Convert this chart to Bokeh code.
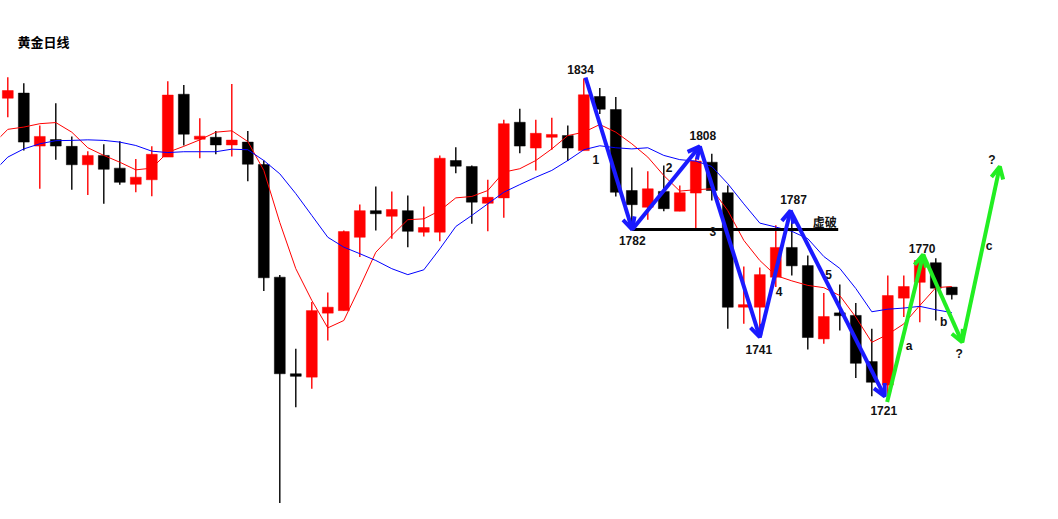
import numpy as np
from bokeh.plotting import figure
from bokeh.models import ColumnDataSource, Range1d, Arrow, OpenHead, Label
from bokeh.core.properties import value
from bokeh.embed import file_html
from bokeh.resources import INLINE

title_text = "黄金日线"

opens = [1827.0, 1828.8, 1810.1, 1812.4, 1810.0, 1803.5, 1806.8, 1802.3, 1796.6, 1798.2,
         1806.2, 1828.4, 1812.5, 1813.2, 1810.5, 1811.5, 1803.6, 1763.8, 1729.7, 1728.5,
         1751.1, 1752.0, 1777.9, 1787.3, 1785.3, 1787.3, 1779.7, 1779.7, 1805.0, 1802.9,
         1789.9, 1791.8, 1818.5, 1809.4, 1813.2, 1813.8, 1808.5, 1827.6, 1823.0, 1794.4,
         1788.5, 1794.1, 1787.1, 1793.5, 1804.4, 1793.6, 1753.2, 1753.2, 1763.8, 1774.3,
         1767.9, 1742.0, 1751.2, 1750.3, 1734.0, 1725.7, 1756.4, 1762.0, 1768.9, 1760.3]
highs = [1834.4, 1832.3, 1817.4, 1825.2, 1813.5, 1808.3, 1810.7, 1811.8, 1805.5, 1810.0,
         1833.0, 1831.7, 1819.9, 1815.4, 1832.0, 1815.4, 1805.0, 1764.6, 1738.5, 1755.0,
         1758.4, 1780.3, 1789.5, 1795.8, 1794.1, 1792.6, 1788.8, 1806.8, 1809.7, 1803.2,
         1798.2, 1819.4, 1823.3, 1819.4, 1820.1, 1817.4, 1834.0, 1830.6, 1827.4, 1802.5,
         1801.2, 1803.2, 1796.2, 1805.7, 1807.4, 1796.2, 1767.6, 1767.2, 1782.1, 1786.6,
         1771.5, 1758.2, 1761.2, 1754.7, 1745.6, 1764.4, 1764.4, 1771.1, 1770.5, 1760.3]
lows = [1820.3, 1808.5, 1795.0, 1805.3, 1794.7, 1792.8, 1789.7, 1796.4, 1793.8, 1792.4,
        1806.2, 1810.3, 1805.8, 1807.2, 1806.4, 1797.7, 1758.9, 1680.6, 1717.9, 1724.4,
        1741.4, 1752.0, 1770.9, 1780.3, 1777.4, 1774.4, 1778.2, 1776.5, 1800.5, 1782.7,
        1780.0, 1784.8, 1807.6, 1801.5, 1808.8, 1804.8, 1808.5, 1821.4, 1792.3, 1782.7,
        1784.1, 1787.1, 1787.1, 1780.5, 1790.9, 1745.6, 1747.4, 1742.5, 1760.3, 1764.4,
        1738.3, 1740.3, 1745.0, 1728.2, 1721.8, 1721.4, 1749.7, 1747.9, 1748.5, 1755.9]
closes = [1829.7, 1811.5, 1813.5, 1810.1, 1803.5, 1806.8, 1801.9, 1797.3, 1799.1, 1807.2,
          1828.1, 1814.3, 1813.6, 1810.5, 1812.2, 1803.7, 1763.6, 1729.7, 1728.8, 1752.0,
          1753.2, 1779.9, 1787.3, 1786.2, 1787.7, 1780.0, 1781.3, 1805.8, 1803.0, 1790.3,
          1792.0, 1818.0, 1810.1, 1814.6, 1814.2, 1809.4, 1828.2, 1823.1, 1793.8, 1789.4,
          1795.0, 1788.0, 1793.6, 1804.8, 1794.4, 1753.2, 1754.1, 1764.7, 1774.3, 1767.8,
          1742.5, 1749.9, 1750.2, 1733.4, 1726.7, 1757.3, 1760.5, 1769.7, 1759.9, 1757.6]

# moving averages (first value belongs to the bar before the window)
ma_fast = [1810.3, 1816.0, 1816.8, 1818.0, 1818.4, 1815.0, 1809.5, 1806.8, 1804.4, 1801.7, 1802.3,
           1807.9, 1810.0, 1812.3, 1815.0, 1815.5, 1811.7, 1801.5, 1783.1, 1766.8, 1755.6,
           1745.9, 1748.5, 1760.3, 1772.6, 1778.5, 1784.1, 1784.4, 1787.3, 1791.8, 1792.3,
           1794.4, 1800.9, 1802.1, 1805.0, 1809.1, 1813.8, 1815.0, 1817.7, 1815.0, 1810.9,
           1806.2, 1799.7, 1794.2, 1794.7, 1795.0, 1787.3, 1776.8, 1769.7, 1764.4, 1762.5,
           1760.9, 1760.1, 1757.3, 1749.7, 1740.8, 1743.6, 1747.3, 1753.8, 1760.1, 1760.5]
ma_slow = [1800.4, 1806.2, 1809.1, 1810.9, 1812.0, 1812.1, 1812.3, 1812.1, 1811.5, 1810.3, 1808.3,
           1807.8, 1808.1, 1808.1, 1808.1, 1809.0, 1808.8, 1805.0, 1800.3, 1793.3, 1785.6,
           1777.9, 1774.4, 1772.1, 1769.7, 1766.8, 1764.7, 1766.4, 1773.8, 1781.7, 1785.6,
           1789.7, 1793.8, 1796.5, 1799.1, 1801.5, 1805.0, 1808.8, 1810.2, 1809.5, 1809.1,
           1809.5, 1806.8, 1805.3, 1804.8, 1802.9, 1796.8, 1789.7, 1782.9, 1781.5, 1780.0,
           1777.4, 1771.1, 1766.9, 1759.8, 1751.6, 1752.5, 1752.9, 1753.5, 1752.3, 1751.3]

# wave path (blue) and projected path (green): bar position, price, label
wave_x = [36.11, 39.03, 43.25, 47.0, 48.92, 54.81]
wave_y = [1834.3, 1780.6, 1810.0, 1742.6, 1787.3, 1721.7]
wave_text = ["1834", "1782", "1808", "1741", "1787", "1721"]
wave_counts = ["1", "2", "3", "4", "5"]

proj_x = [54.96, 57.21, 59.65, 62.0]
proj_y = [1719.7, 1771.8, 1740.8, 1802.9]
proj_text = ["", "1770", "?", "?"]
proj_counts = ["a", "b", "c"]

neck_end_x = 51.9
neck_text = "虚破"

# ---------------------------------------------------------------- layout
W, H = 1042, 503
PX = 1 / 16.0
PY = 0.35311
X0 = -7.3 * PX
X1 = X0 + W * PX
Y1 = 1861.5
Y0 = Y1 - H * PY

p = figure(width=W, height=H, x_range=Range1d(X0, X1), y_range=Range1d(Y0, Y1),
           output_backend="svg", toolbar_location=None, min_border=0,
           x_axis_location=None, y_axis_location=None)
p.grid.visible = False
p.outline_line_color = None
p.background_fill_color = "white"
p.border_fill_color = "white"

idx = np.arange(len(opens))
o = np.array(opens); c = np.array(closes)
colors = np.where(c >= o, "#ff0000", "#000000")
src = ColumnDataSource(dict(x=idx, top=np.maximum(o, c), bottom=np.minimum(o, c),
                            high=highs, low=lows, color=colors))
p.segment(x0="x", y0="high", x1="x", y1="low", color="color", line_width=1.4, source=src)
p.vbar(x="x", top="top", bottom="bottom", width=0.68, fill_color="color",
       line_color="color", line_width=0.5, source=src)

ma_x = np.arange(-1, len(opens))
p.line(ma_x, ma_fast, line_color="#ff0000", line_width=1)
p.line(ma_x, ma_slow, line_color="#0000ff", line_width=1)

# neckline
p.line([wave_x[1], neck_end_x], [wave_y[1], wave_y[1]], line_color="black", line_width=3)


def arrows(xs, ys, color):
    s = ColumnDataSource(dict(xs=xs[:-1], ys=ys[:-1], xe=xs[1:], ye=ys[1:]))
    a = Arrow(x_start="xs", y_start="ys", x_end="xe", y_end="ye", source=s,
              line_color=color, line_width=4,
              end=OpenHead(size=12, line_color=color, line_width=4))
    p.add_layout(a)


arrows(wave_x, wave_y, "#1a1aff")
arrows(proj_x, proj_y, "#22ee22")

# ---------------------------------------------------------------- texts
lx, ly, lt = [], [], []


def put(x, y, t, dx, dy):
    # dx, dy in screen pixels (dy positive = upwards)
    lx.append(x + dx * PX); ly.append(y + dy * PY); lt.append(t)


wave_off = [(-5, 8), (0, -11), (3, 11), (-1, -12), (3, 11), (-1, -14)]
for x, y, t, (dx, dy) in zip(wave_x, wave_y, wave_text, wave_off):
    put(x, y, t, dx, dy)
proj_off = [(0, 0), (-1, 6), (-3, -12), (-8, 6)]
for x, y, t, (dx, dy) in zip(proj_x, proj_y, proj_text, proj_off):
    if t:
        put(x, y, t, dx, dy)

count_off = [(-13, -6), (3, 20), (-17, 10), (4, -18), (-9, 29)]
for i, (t, (dx, dy)) in enumerate(zip(wave_counts, count_off)):
    mx = (wave_x[i] + wave_x[i + 1]) / 2; my = (wave_y[i] + wave_y[i + 1]) / 2
    put(mx, my, t, dx, dy)
pcount_off = [(4, -18), (1, -24), (8, 8)]
for i, (t, (dx, dy)) in enumerate(zip(proj_counts, pcount_off)):
    mx = (proj_x[i] + proj_x[i + 1]) / 2; my = (proj_y[i] + proj_y[i + 1]) / 2
    put(mx, my, t, dx, dy)

p.text(x=lx, y=ly, text=lt, text_font=value("Liberation Sans"), text_font_style="bold",
       text_font_size="12px", text_color="#111111", text_align="center",
       text_baseline="middle")

p.text(x=[neck_end_x - 13.5 * PX], y=[wave_y[1] + 8 * PY], text=[neck_text],
       text_font=value("Noto Sans CJK SC"), text_font_style="bold",
       text_font_size="12px", text_color="#111111", text_align="center",
       text_baseline="middle")

p.add_layout(Label(x=17, y=H - 40.5, x_units="screen", y_units="screen", text=title_text,
                   text_font="Noto Sans CJK SC", text_font_style="bold",
                   text_font_size="13px", text_color="#000000", text_baseline="middle"))

open("out.html", "w").write(file_html(p, INLINE))
